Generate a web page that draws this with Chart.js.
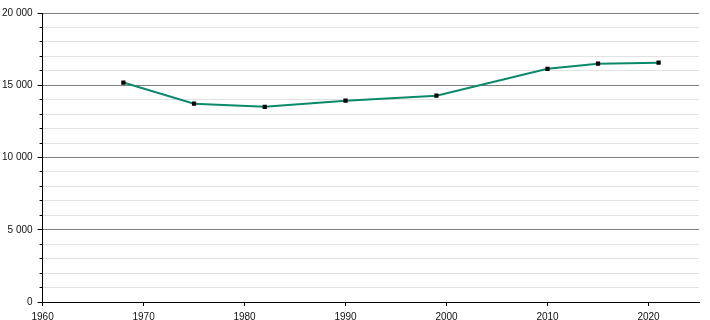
<!DOCTYPE html>
<html>
<head>
<meta charset="utf-8">
<script src="https://cdn.jsdelivr.net/npm/chart.js@4"></script>
<style>
  html, body { margin: 0; padding: 0; background: #fff; }
  #wrap { width: 710px; height: 320px; }
</style>
</head>
<body>
<div id="wrap"><canvas id="chart"></canvas></div>
<script>
// population by census year
var years = [1968, 1975, 1982, 1990, 1999, 2010, 2015, 2021];
var population = [15190, 13720, 13510, 13930, 14280, 16140, 16490, 16560];
var yearTicks = [1960, 1970, 1980, 1990, 2000, 2010, 2020];

function spaced(v) {
  return String(v).replace(/\B(?=(\d{3})+(?!\d))/g, ' ');
}
function isMajor(c) {
  return c.tick && c.tick.value % 5000 === 0;
}

new Chart('chart', {
  type: 'line',
  data: {
    datasets: [{
      data: years.map((y, i) => ({ x: y, y: population[i] })),
      borderColor: '#0a8a6a',
      borderWidth: 2,
      pointStyle: 'rect',
      pointRadius: 3,
      pointBackgroundColor: '#000',
      pointBorderColor: '#000',
      pointBorderWidth: 0,
      tension: 0
    }]
  },
  options: {
    responsive: true,
    maintainAspectRatio: false,
    animation: false,
    layout: { padding: { left: -3, right: 11, top: 13, bottom: -8 } },
    plugins: { legend: { display: false }, tooltip: { enabled: false } },
    scales: {
      x: {
        type: 'linear',
        min: 1960,
        max: 2025,
        afterBuildTicks: (axis) => {
          axis.ticks = yearTicks.map(v => ({ value: v }));
        },
        ticks: {
          color: '#111',
          font: { family: 'Liberation Sans', size: 10, lineHeight: 1 },
          padding: 6,
          maxRotation: 0,
          callback: (v) => String(v)
        },
        grid: { drawOnChartArea: false, drawTicks: true, tickLength: 4, tickColor: '#000' },
        border: { color: '#000', width: 1 }
      },
      y: {
        min: 0,
        max: 20000,
        ticks: {
          stepSize: 1000,
          autoSkip: false,
          color: '#111',
          font: { family: 'Liberation Sans', size: 10 },
          padding: 5,
          callback: (v) => v % 5000 === 0 ? spaced(v) : ''
        },
        grid: {
          color: (c) => isMajor(c) ? '#7f7f7f' : '#e2e2e2',
          tickColor: '#000',
          tickLength: 5,
          tickBorderDash: (c) => isMajor(c) ? [] : [3, 10],
          tickBorderDashOffset: (c) => isMajor(c) ? 0 : 11,
          lineWidth: 1
        },
        border: { color: '#000', width: 1 }
      }
    }
  }
});
</script>
</body>
</html>
